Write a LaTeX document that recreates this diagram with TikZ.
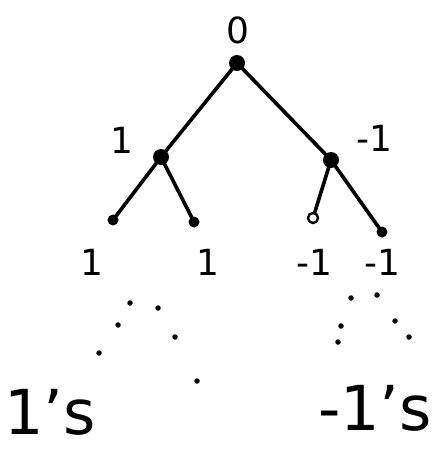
\documentclass[tikz,border=0pt]{standalone}
\usepackage{fontspec}
\setmainfont{DejaVu Sans}
\begin{document}
\begin{tikzpicture}[x=1pt,y=-1pt,
  edge/.style={line width=3.6pt,line cap=round},
  inner/.style={circle,fill=black,inner sep=0pt,minimum size=16pt},
  leaf/.style={circle,fill=black,inner sep=0pt,minimum size=11pt},
  openleaf/.style={circle,draw=black,line width=2.4pt,fill=white,inner sep=0pt,minimum size=10pt},
  lab/.style={font=\fontsize{36}{38}\selectfont,inner sep=0pt},
  big/.style={font=\fontsize{62}{64}\selectfont,inner sep=0pt},
  dotm/.style={circle,fill=black,inner sep=0pt,minimum size=5.5pt}]
\useasboundingbox (0,0) rectangle (441,463);
\fill[white] (0,0) rectangle (441,463);
% nodes
\node[inner] (r) at (237,63) {};
\node[inner] (a) at (161,157) {};
\node[inner] (b) at (331,160) {};
\node[leaf] (aa) at (113,220) {};
\node[leaf] (ab) at (194,222) {};
\node[openleaf] (ba) at (313,218) {};
\node[leaf] (bb) at (382,232) {};
% edges
\draw[edge] (r.center) -- (a.center);
\draw[edge] (r.center) -- (b.center);
\draw[edge] (a.center) -- (aa.center);
\draw[edge] (a.center) -- (ab.center);
\draw[edge] (b.center) -- (ba);
\draw[edge] (b.center) -- (bb.center);
% labels
\node[lab] (l0) at (238,30) {0};
\node[lab] (la) at (122,140) {1};
\node[lab] (lb) at (374,138) {-1};
\node[lab] (laa) at (92,262) {1};
\node[lab] (lab1) at (208,262) {1};
\node[lab] (lba) at (314,262) {-1};
\node[lab] (lbb) at (382,262) {-1};
% dots
\foreach \i/\p in {1/{(130,303)},2/{(158,308)},3/{(118,325)},4/{(175,337)},5/{(99,353)},6/{(197,381)},
                    7/{(351,298)},8/{(377,295)},9/{(341,326)},10/{(395,321)},11/{(338,342)},12/{(409,337)}}
  \node[dotm] (d\i) at \p {};
% bottom
\node[big] (ones) at (50,412) {1's};
\node[big] (mones) at (375,408) {-1's};
\end{tikzpicture}
\end{document}
